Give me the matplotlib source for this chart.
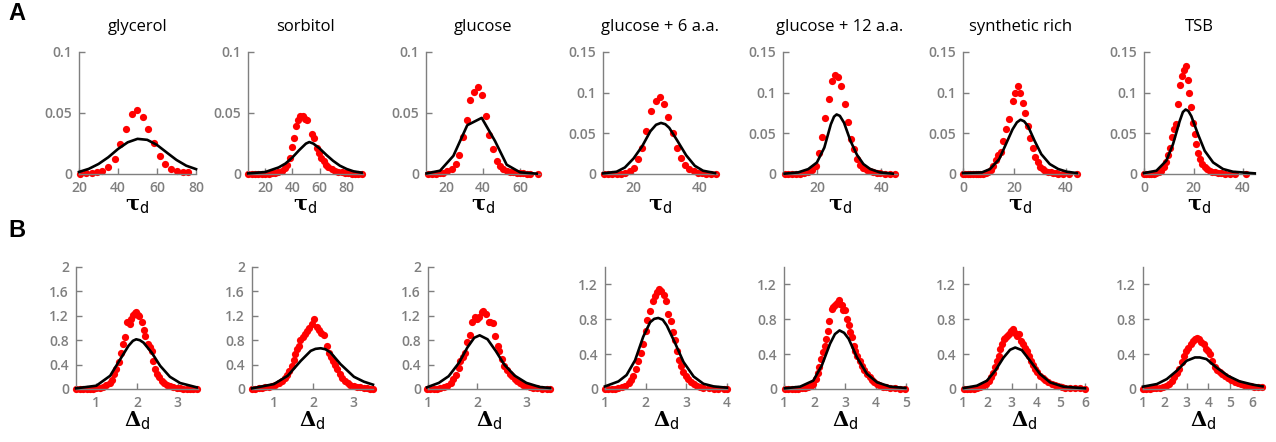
import matplotlib.pyplot as plt

plt.rcParams['font.family'] = ['Open Sans', 'DejaVu Sans']
plt.rcParams['mathtext.fontset'] = 'dejavuserif'

W, H = 1276, 442
GRAY = '#7f7f7f'

media = ["glycerol", "sorbitol", "glucose", "glucose + 6 a.a.",
         "glucose + 12 a.a.", "synthetic rich", "TSB"]

# ---- row A: tau_d distributions (red dots) and fitted curves (black) ----
glycerol_tau_x = [20.5, 23.6, 26.5, 29.1, 31.6, 35, 38.5, 41, 44.1, 47, 49.6, 52.6,
                  55.6, 58.5, 61.5, 64.1, 67, 70.1, 73.2, 76.1]
glycerol_tau_y = [0, .0005, .001, .0016, .0024, .006, .0125, .0244, .037, .049, .0526,
                  .047, .0366, .0255, .0149, .0081, .004, .0024, .0016, .0014]
glycerol_tau_fit_x = [20, 25, 30, 35, 40, 45, 50, 55, 60, 65, 70, 75, 80]
glycerol_tau_fit_y = [.0017, .0042, .0082, .0137, .0205, .026, .0288, .028, .0238,
                      .0176, .0115, .0068, .0040]

sorbitol_tau_x = [7.7, 10.2, 12.6, 15.1, 17.5, 20, 22.5, 24.9, 27.4, 29.8, 32.3, 34.7,
                  36.4, 38.4, 40.1, 41.3, 42.5, 44, 45.7, 47.7, 49.4, 51.1, 54.3, 56,
                  58, 59.7, 61.4, 63.1, 64.9, 66.6, 69, 71.5, 73.9, 76.4, 78.8, 81.3,
                  83.7, 86.2, 88.6, 91.1]
sorbitol_tau_y = [0, 0, 0, 0, 0, 0, .0003, .0005, .0011, .0016, .0027, .0046, .0073,
                  .0135, .0224, .0297, .0392, .0446, .0473, .0473, .0454, .0446, .0324,
                  .0292, .0216, .0176, .0135, .0103, .0076, .0054, .0038, .0027, .0019,
                  .0014, .0008, .0005, .0003, .0003, .0003, 0]
sorbitol_tau_fit_x = [7.5, 20, 30, 35, 40, 45, 50, 52.5, 55.5, 60, 65, 70, 75, 80, 85, 91]
sorbitol_tau_fit_y = [.0005, .0016, .0054, .0086, .0135, .0195, .0249, .0262, .0249,
                      .021, .0157, .0108, .0068, .0041, .0022, .0011]

glucose_tau_x = [10.1, 12.3, 14.6, 16.8, 18.6, 20.7, 23.1, 25.4, 27.2, 29.4, 31.2, 33,
                 35.3, 37.5, 39.6, 41.4, 43.4, 45.2, 47.4, 49.2, 51, 52.8, 54.5, 56.4,
                 58.2, 60, 61.8, 63.6, 65.4, 69.9]
glucose_tau_y = [0, 0, .0003, .0005, .0011, .0027, .0041, .0086, .0157, .0303, .0446,
                 .0608, .067, .0716, .0649, .0473, .0319, .0208, .0108, .0062, .0041,
                 .0027, .0019, .0014, .0008, .0005, .0005, .0003, .0003, 0]
glucose_tau_fit_x = [9.5, 16.8, 24, 31.5, 39.3, 46.5, 52.8, 60, 69]
glucose_tau_fit_y = [.0005, .0027, .0149, .040, .046, .027, .0076, .0014, .0003]

glc6_tau_x = [11.1, 12.3, 13.5, 14.9, 16.1, 17.4, 18.8, 20.2, 21.5, 22.6, 23.9, 25.3,
              26.7, 28, 29.2, 30.5, 31.8, 33, 34.4, 35.6, 36.9, 38.3, 39.5, 40.7, 42,
              43.4, 44.8]
glc6_tau_y = [0, 0, 0, 0, .0004, .0008, .0032, .0073, .0182, .0324, .0526, .0769,
              .0899, .0951, .0858, .07, .0506, .0324, .0194, .0113, .0061, .0032, .0016,
              .0008, .0004, 0, 0]
glc6_tau_fit_x = [10.8, 14.9, 17.4, 20, 22.6, 25.1, 26.8, 28.3, 29.6, 30.8, 33.3, 35.9,
                  38.5, 41, 44.6]
glc6_tau_fit_y = [.0008, .0028, .008, .019, .034, .0526, .0605, .0628, .0612, .0567,
                  .0405, .023, .0101, .004, .0012]

glc12_tau_x = [10, 11.2, 12.4, 13.6, 14.8, 16.1, 17.3, 18.5, 19.7, 20.8, 21.7, 22.6,
               23.6, 24.6, 25.6, 26.6, 27.6, 28.6, 29.6, 30.6, 31.4, 32.4, 33.4, 34.4,
               35.5, 36.5, 37.5, 38.5, 39.5, 41, 42.5, 44.3]
glc12_tau_y = [0, 0, 0, 0, .0004, .0008, .002, .0049, .0102, .0264, .0455, .0691, .0923,
               .1138, .122, .1191, .1077, .0862, .0642, .0427, .0305, .0183, .0114,
               .0073, .0049, .0033, .002, .0012, .0008, .0004, 0, 0]
glc12_tau_fit_x = [10, 14.2, 17.3, 20, 22.3, 24.3, 25.3, 26.1, 27.1, 28.4, 30.4, 32.4,
                   34.4, 36.5, 39.5, 43.5]
glc12_tau_fit_y = [.0004, .002, .006, .0142, .0325, .061, .0705, .0732, .0715, .063,
                   .0407, .0236, .0122, .0061, .002, .0004]

rich_tau_x = [0, .9, 2, 2.9, 3.9, 4.9, 5.9, 6.8, 7.9, 8.8, 9.9, 10.8, 11.8, 12.8, 13.8,
              14.7, 15.7, 16.7, 18, 19.3, 20.4, 21.3, 22.2, 23.3, 24.2, 25.3, 26.2,
              27.2, 28.2, 29.2, 30.1, 31.2, 32.1, 33.2, 34.1, 35.1, 36.1, 37.1, 39.1,
              41.1, 44.3]
rich_tau_y = [0, 0, 0, 0, 0, 0, 0, 0, .0004, .0008, .002, .0049, .0102, .0171, .0236,
              .0276, .0407, .0557, .0671, .0894, .0996, .1085, .0996, .0874, .0752, .059,
              .0447, .0325, .0211, .0142, .0089, .0061, .0041, .0028, .002, .0012,
              .0008, .0004, 0, 0, 0]
rich_tau_fit_x = [0, 7.4, 10.5, 14.1, 16.7, 19.3, 21, 22.4, 23.8, 25.3, 27.9, 30.5,
                  33.8, 37.1, 40.4, 44.3]
rich_tau_fit_y = [.0012, .002, .006, .0183, .0366, .0549, .0635, .0667, .0648, .059,
                  .0407, .0244, .0122, .0061, .0028, .0012]

tsb_tau_x = [0, .9, 2, 3, 3.9, 5, 6.1, 7, 7.9, 9, 9.8, 10.6, 11.4, 12, 12.8, 13.7, 14.4,
             15.2, 16, 16.8, 17.6, 18.2, 18.8, 19.8, 20.5, 21.1, 21.8, 22.7, 23.6, 24.5,
             25.4, 26.5, 27.6, 28.5, 29.9, 31.2, 32.6, 34.6, 36.6, 41.3]
tsb_tau_y = [0, 0, 0, 0, .0004, .0008, .002, .0041, .0081, .0142, .0236, .0325, .0455,
             .0557, .061, .0862, .1089, .1199, .128, .1333, .1159, .0996, .0821, .063,
             .0488, .0366, .0264, .0183, .0122, .0089, .0061, .0041, .0028, .002,
             .0012, .0008, .0004, .0004, 0, 0]
tsb_tau_fit_x = [0, 5, 9, 11.7, 14.4, 15.7, 16.8, 17.9, 19.1, 21.8, 24.5, 27.9, 31.9,
                 35.9, 44.7]
tsb_tau_fit_y = [.0012, .004, .0163, .0366, .065, .0762, .0793, .0775, .0711, .0488,
                 .0285, .0142, .0061, .0028, .0008]

# ---- row B: Delta_d distributions and fitted curves ----
glycerol_delta_x = [.51, .59, .67, .76, .84, .92, 1, 1.08, 1.16, 1.24, 1.33, 1.38, 1.44,
                    1.49, 1.55, 1.6, 1.65, 1.71, 1.75, 1.82, 1.86, 1.9, 1.94, 1.98, 2.02,
                    2.06, 2.12, 2.16, 2.2, 2.26, 2.31, 2.36, 2.4, 2.44, 2.49, 2.55, 2.61,
                    2.67, 2.73, 2.81, 2.89, 2.98, 3.06, 3.14, 3.22, 3.3, 3.38, 3.47]
glycerol_delta_y = [0, 0, 0, 0, 0, .005, .011, .022, .038, .065, .098, .147, .245, .326,
                    .435, .598, .734, .859, 1.098, 1.06, 1.14, 1.21, 1.25, 1.266, 1.21,
                    1.196, 1.103, .962, .87, .745, .69, .625, .462, .326, .245, .19,
                    .136, .098, .071, .043, .027, .016, .011, .005, .005, .005, 0, 0]
glycerol_delta_fit_x = [.5, 1, 1.34, 1.59, 1.79, 1.9, 1.98, 2.07, 2.16, 2.36, 2.57,
                        2.81, 3.06, 3.47]
glycerol_delta_fit_y = [.011, .054, .217, .49, .707, .79, .815, .8, .76, .598, .38, .2,
                        .098, .027]

sorbitol_delta_x = [.45, .53, .62, .7, .78, .87, .95, 1.03, 1.12, 1.2, 1.27, 1.33, 1.39,
                    1.45, 1.5, 1.54, 1.58, 1.63, 1.67, 1.73, 1.78, 1.83, 1.89, 1.95,
                    2.02, 2.08, 2.14, 2.2, 2.27, 2.33, 2.39, 2.43, 2.49, 2.54, 2.6, 2.66,
                    2.73, 2.79, 2.87, 2.93, 3.02, 3.1, 3.18, 3.27, 3.35, 3.43, 3.5]
sorbitol_delta_y = [0, .005, .011, .016, .027, .038, .054, .071, .098, .136, .179, .234,
                    .299, .38, .473, .571, .652, .707, .8, .853, .897, .951, 1.005, 1.07,
                    1.141, 1.016, .962, .924, .886, .707, .582, .527, .462, .397, .326,
                    .245, .179, .136, .098, .071, .054, .038, .027, .016, .011, .005, 0]
sorbitol_delta_fit_x = [.45, 1, 1.35, 1.68, 1.93, 2.05, 2.18, 2.3, 2.43, 2.68, 3.02,
                        3.27, 3.5]
sorbitol_delta_fit_y = [.011, .08, .217, .462, .625, .658, .668, .652, .598, .408, .2,
                        .12, .071]

glucose_delta_x = [.98, 1.05, 1.12, 1.18, 1.25, 1.32, 1.39, 1.46, 1.51, 1.56, 1.62, 1.66,
                   1.71, 1.75, 1.8, 1.85, 1.9, 1.95, 1.99, 2.04, 2.09, 2.12, 2.18, 2.23,
                   2.27, 2.32, 2.36, 2.42, 2.45, 2.51, 2.55, 2.6, 2.66, 2.71, 2.76, 2.81,
                   2.86, 2.93, 3, 3.07, 3.14, 3.21, 3.31, 3.41, 3.48]
glucose_delta_y = [0, 0, 0, .006, .011, .028, .055, .099, .165, .237, .347, .457, .529,
                   .595, .771, .882, 1.091, 1.174, 1.146, 1.174, 1.256, 1.284, 1.229,
                   1.091, 1.091, 1.09, .871, .705, .623, .485, .375, .309, .253, .209,
                   .165, .127, .099, .066, .044, .028, .017, .011, .006, 0, 0]
glucose_delta_fit_x = [.98, 1.22, 1.42, 1.63, 1.8, 1.94, 2.05, 2.21, 2.38, 2.55, 2.76,
                       3, 3.27, 3.48]
glucose_delta_fit_y = [.028, .1, .21, .43, .68, .84, .88, .815, .62, .4, .22, .1, .033,
                       .017]

glc6_delta_x = [1, 1.08, 1.16, 1.25, 1.33, 1.41, 1.49, 1.58, 1.63, 1.7, 1.76, 1.82, 1.88,
                1.94, 2, 2.04, 2.11, 2.17, 2.22, 2.27, 2.33, 2.38, 2.44, 2.5, 2.56, 2.62,
                2.67, 2.71, 2.77, 2.82, 2.87, 2.93, 2.99, 3.05, 3.12, 3.18, 3.26, 3.34,
                3.42, 3.55, 3.67, 3.79, 3.92, 4.0]
glc6_delta_y = [0, 0, 0, .004, .008, .019, .038, .068, .098, .151, .23, .325, .408, .521,
                .66, .796, .898, 1.011, 1.068, 1.113, 1.143, 1.125, 1.079, 1.011, .86,
                .785, .653, .558, .438, .332, .264, .2, .151, .113, .079, .057, .038,
                .023, .015, .008, .004, .004, 0, 0]
glc6_delta_fit_x = [1, 1.33, 1.53, 1.74, 1.94, 2.11, 2.21, 2.31, 2.42, 2.52, 2.73, 2.93,
                    3.18, 3.42, 3.67, 4]
glc6_delta_fit_y = [.03, .087, .16, .33, .6, .766, .805, .815, .795, .728, .52, .31,
                    .143, .06, .03, .015]

glc12_delta_x = [1.03, 1.14, 1.25, 1.36, 1.47, 1.58, 1.69, 1.8, 1.88, 1.96, 2.04, 2.11,
                 2.16, 2.22, 2.27, 2.33, 2.38, 2.44, 2.49, 2.57, 2.62, 2.68, 2.73, 2.79,
                 2.84, 2.9, 2.95, 3.01, 3.06, 3.12, 3.17, 3.22, 3.28, 3.33, 3.39, 3.48,
                 3.55, 3.63, 3.72, 3.81, 3.88, 3.96, 4.05, 4.13, 4.24, 4.35, 4.48, 4.65,
                 4.81, 4.98]
glc12_delta_y = [0, 0, 0, 0, .004, .008, .012, .019, .031, .058, .115, .18, .249, .345,
                 .422, .499, .576, .66, .779, .921, .94, .959, .986, 1.017, .979, .959,
                 .909, .902, .806, .729, .652, .595, .499, .441, .384, .326, .269, .219,
                 .173, .134, .104, .077, .058, .042, .027, .019, .012, .008, .004, .004]
glc12_delta_fit_x = [1.03, 1.53, 1.96, 2.24, 2.51, 2.67, 2.82, 2.97, 3.12, 3.39, 3.72,
                     4.05, 4.48, 4.98]
glc12_delta_fit_y = [.008, .027, .096, .27, .52, .63, .672, .645, .576, .365, .173,
                     .077, .027, .012]

rich_delta_x = [1.03, 1.16, 1.3, 1.44, 1.57, 1.71, 1.84, 1.95, 2.05, 2.14, 2.23, 2.32,
                2.39, 2.46, 2.53, 2.59, 2.66, 2.73, 2.8, 2.89, 2.98, 3.04, 3.14, 3.21,
                3.28, 3.37, 3.45, 3.55, 3.62, 3.7, 3.78, 3.86, 3.96, 4.05, 4.16, 4.27,
                4.38, 4.5, 4.64, 4.77, 4.91, 5.05, 5.18, 5.39, 5.59, 5.8, 6.0]
rich_delta_y = [0, 0, 0, .004, .008, .019, .03, .057, .088, .133, .179, .248, .324, .381,
                .457, .514, .571, .59, .61, .629, .667, .686, .648, .61, .629, .552, .514,
                .476, .438, .381, .324, .278, .229, .19, .152, .126, .103, .08, .057,
                .042, .03, .019, .015, .011, .011, .008, .004]
rich_delta_fit_x = [1.03, 1.57, 1.98, 2.32, 2.66, 2.93, 3.14, 3.41, 3.75, 4.16, 4.57,
                    5.11, 6]
rich_delta_fit_y = [.011, .038, .095, .21, .36, .45, .476, .446, .324, .171, .076, .027,
                    .008]

tsb_delta_x = [1, 1.15, 1.3, 1.45, 1.61, 1.76, 1.91, 2.06, 2.21, 2.32, 2.42, 2.55, 2.67,
               2.77, 2.88, 2.97, 3.08, 3.18, 3.27, 3.38, 3.48, 3.58, 3.68, 3.79, 3.88,
               3.98, 4.09, 4.18, 4.29, 4.39, 4.52, 4.64, 4.74, 4.89, 5.05, 5.2, 5.35,
               5.5, 5.65, 5.8, 5.95, 6.11, 6.26, 6.45]
tsb_delta_y = [0, 0, .004, .008, .011, .015, .023, .034, .057, .088, .133, .179, .229,
               .305, .381, .438, .476, .514, .552, .571, .583, .571, .545, .514, .457,
               .438, .4, .324, .248, .217, .19, .171, .152, .126, .103, .084, .069, .057,
               .046, .038, .03, .027, .023, .019]
tsb_delta_fit_x = [1, 1.64, 2.09, 2.55, 3, 3.38, 3.6, 3.91, 4.36, 4.89, 5.42, 6.03, 6.48]
tsb_delta_fit_y = [.027, .057, .114, .21, .324, .362, .362, .343, .248, .152, .088, .05,
                   .03]

tau_xticks = [[20, 40, 60, 80], [20, 40, 60, 80], [20, 40, 60], [20, 40], [20, 40],
              [0, 20, 40], [0, 20, 40]]
delta_xticks = [[1, 2, 3], [1, 2, 3], [1, 2, 3], [1, 2, 3, 4], [1, 2, 3, 4, 5],
                [1, 2, 3, 4, 5, 6], [1, 2, 3, 4, 5, 6]]
tau_yticks_small = [0, 0.05, 0.1]
tau_yticks_big = [0, 0.05, 0.1, 0.15]
delta_yticks_big = [0, 0.4, 0.8, 1.2, 1.6, 2]
delta_yticks_small = [0, 0.4, 0.8, 1.2]

tau_data = [
    (glycerol_tau_x, glycerol_tau_y, glycerol_tau_fit_x, glycerol_tau_fit_y),
    (sorbitol_tau_x, sorbitol_tau_y, sorbitol_tau_fit_x, sorbitol_tau_fit_y),
    (glucose_tau_x, glucose_tau_y, glucose_tau_fit_x, glucose_tau_fit_y),
    (glc6_tau_x, glc6_tau_y, glc6_tau_fit_x, glc6_tau_fit_y),
    (glc12_tau_x, glc12_tau_y, glc12_tau_fit_x, glc12_tau_fit_y),
    (rich_tau_x, rich_tau_y, rich_tau_fit_x, rich_tau_fit_y),
    (tsb_tau_x, tsb_tau_y, tsb_tau_fit_x, tsb_tau_fit_y),
]
delta_data = [
    (glycerol_delta_x, glycerol_delta_y, glycerol_delta_fit_x, glycerol_delta_fit_y),
    (sorbitol_delta_x, sorbitol_delta_y, sorbitol_delta_fit_x, sorbitol_delta_fit_y),
    (glucose_delta_x, glucose_delta_y, glucose_delta_fit_x, glucose_delta_fit_y),
    (glc6_delta_x, glc6_delta_y, glc6_delta_fit_x, glc6_delta_fit_y),
    (glc12_delta_x, glc12_delta_y, glc12_delta_fit_x, glc12_delta_fit_y),
    (rich_delta_x, rich_delta_y, rich_delta_fit_x, rich_delta_fit_y),
    (tsb_delta_x, tsb_delta_y, tsb_delta_fit_x, tsb_delta_fit_y),
]

# layout in pixels (left, right) of each axis, plus axis limits
tau_cols = [(79, 196), (248, 363), (426, 540), (603, 717), (783, 897), (963, 1078),
            (1144, 1255)]
delta_cols = [(76, 198), (252, 373), (428, 551), (605, 727), (784, 906), (963, 1085),
              (1143, 1263)]
tau_xlims = [(20, 80), (7.4, 92), (9.2, 70.8), (10.8, 45.2), (9.5, 44.8), (0, 44.8),
             (0, 44.8)]
delta_xlims = [(0.5, 3.5), (0.45, 3.5), (1, 3.5), (1, 4), (1, 5), (1, 6), (1, 6.5)]


def tick_text(v):
    return ('%g' % v)


def draw_panel(ax, data, xlim, xticks, ylim, yticks, xlabel):
    x, y, fx, fy = data
    ax.plot(x, y, 'o', color='#ff0000', ms=5.2, mec='none', clip_on=False, zorder=2)
    ax.plot(fx, fy, '-', color='black', lw=1.9, clip_on=False, zorder=3,
            solid_joinstyle='round')
    ax.set_xlim(*xlim)
    ax.set_ylim(0, ylim)
    ax.set_xticks(xticks)
    ax.set_xticklabels([tick_text(v) for v in xticks], fontweight='semibold')
    ax.set_yticks(yticks)
    ax.set_yticklabels([tick_text(v) for v in yticks], fontweight='semibold')
    for s in ['top', 'right']:
        ax.spines[s].set_visible(False)
    for s in ['left', 'bottom']:
        ax.spines[s].set_color(GRAY)
        ax.spines[s].set_linewidth(1.0)
    ax.tick_params(direction='in', length=4, width=1.0, color=GRAY,
                   labelcolor=GRAY, labelsize=10, pad=5)
    ax.set_xlabel(xlabel, fontsize=15, labelpad=0)


fig = plt.figure(figsize=(W / 100, H / 100), dpi=100)

rowA_bottom, rowA_top = 174, 52
rowB_bottom, rowB_top = 389, 267

for i in range(7):
    l, r = tau_cols[i]
    ax = fig.add_axes([l / W, 1 - rowA_bottom / H, (r - l) / W,
                       (rowA_bottom - rowA_top) / H])
    yl = 0.1 if i < 3 else 0.15
    yt = tau_yticks_small if i < 3 else tau_yticks_big
    draw_panel(ax, tau_data[i], tau_xlims[i], tau_xticks[i], yl, yt,
               r'$\mathbf{\tau}_{\mathsf{d}}$')
    fig.text((l + r) / 2 / W, 1 - 27 / H, media[i], ha='center', va='center',
             fontsize=12, color='black')

    l, r = delta_cols[i]
    ax = fig.add_axes([l / W, 1 - rowB_bottom / H, (r - l) / W,
                       (rowB_bottom - rowB_top) / H])
    yl = 2 if i < 3 else 1.4
    yt = delta_yticks_big if i < 3 else delta_yticks_small
    draw_panel(ax, delta_data[i], delta_xlims[i], delta_xticks[i], yl, yt,
               r'$\mathbf{\Delta}_{\mathsf{d}}$')

fig.text(8 / W, 1 - 14 / H, 'A', fontsize=17, fontweight='bold', va='center',
         family='Liberation Sans')
fig.text(8 / W, 1 - 230 / H, 'B', fontsize=17, fontweight='bold', va='center',
         family='Liberation Sans')

fig.savefig('out.png', dpi=100)
